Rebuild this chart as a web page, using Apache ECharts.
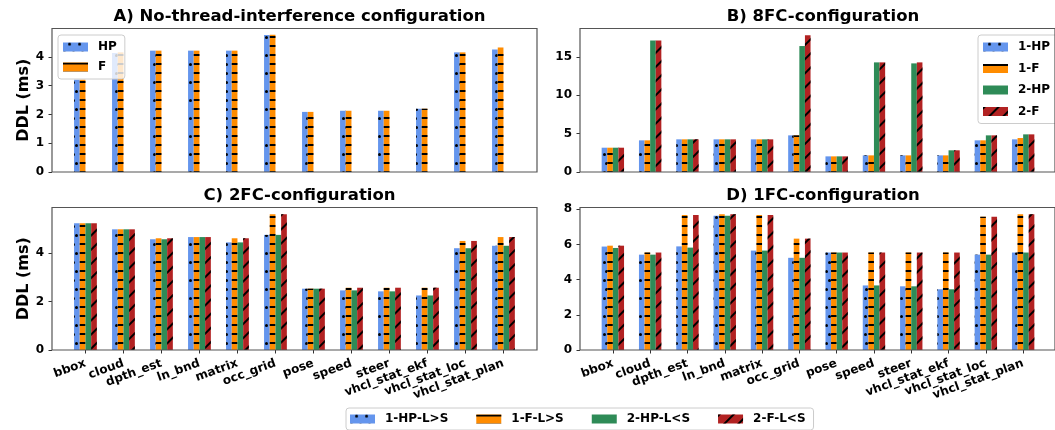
<!DOCTYPE html>
<html>
<head>
<meta charset="utf-8">
<script src="https://cdn.jsdelivr.net/npm/echarts@6/dist/echarts.min.js"></script>
<style>html,body{margin:0;padding:0;background:#fff}#c{width:1055px;height:430px}</style>
</head>
<body>
<div id="c"></div>
<script>
const categories = ['bbox','cloud','dpth_est','ln_bnd','matrix','occ_grid','pose','speed','steer','vhcl_stat_ekf','vhcl_stat_loc','vhcl_stat_plan'];

// A) No-thread-interference
const aHP = [3.21, 4.14, 4.22, 4.22, 4.22, 4.76, 2.09, 2.13, 2.13, 2.20, 4.16, 4.26];
const aF  = [3.21, 4.16, 4.22, 4.22, 4.22, 4.77, 2.09, 2.13, 2.13, 2.20, 4.16, 4.33];
// B) 8FC
const b1HP = [3.17, 4.13, 4.26, 4.26, 4.26, 4.78, 2.04, 2.17, 2.17, 2.17, 4.13, 4.26];
const b1F  = [3.17, 4.13, 4.26, 4.26, 4.26, 4.78, 2.04, 2.17, 2.17, 2.17, 4.13, 4.43];
const b2HP = [3.17, 17.17, 4.26, 4.26, 4.26, 16.43, 2.04, 14.30, 14.17, 2.83, 4.78, 4.91];
const b2F  = [3.17, 17.17, 4.26, 4.26, 4.26, 17.83, 2.04, 14.30, 14.30, 2.83, 4.78, 4.91];
// C) 2FC
const c1HP = [5.23, 4.98, 4.57, 4.66, 4.44, 4.75, 2.53, 2.46, 2.42, 2.25, 4.20, 4.30];
const c1F  = [5.23, 4.98, 4.61, 4.66, 4.61, 5.60, 2.53, 2.57, 2.57, 2.57, 4.50, 4.66];
const c2HP = [5.23, 4.98, 4.57, 4.66, 4.44, 4.75, 2.53, 2.46, 2.42, 2.25, 4.20, 4.30];
const c2F  = [5.23, 4.98, 4.61, 4.66, 4.61, 5.60, 2.53, 2.57, 2.57, 2.57, 4.50, 4.66];
// D) 1FC
const d1HP = [5.88, 5.42, 5.89, 7.63, 5.65, 5.24, 5.54, 3.67, 3.62, 3.45, 5.42, 5.54];
const d1F  = [5.93, 5.54, 7.68, 7.72, 7.68, 6.33, 5.54, 5.54, 5.54, 5.54, 7.57, 7.72];
const d2HP = [5.80, 5.42, 5.82, 7.63, 5.65, 5.24, 5.54, 3.67, 3.62, 3.45, 5.42, 5.54];
const d2F  = [5.93, 5.54, 7.68, 7.72, 7.68, 6.33, 5.54, 5.54, 5.54, 5.54, 7.57, 7.72];

const titles = ['A) No-thread-interference configuration', 'B) 8FC-configuration', 'C) 2FC-configuration', 'D) 1FC-configuration'];
const namesA = ['HP', 'F'];
const namesB = ['1-HP', '1-F', '2-HP', '2-F'];
const namesCD = ['1-HP-L>S', '1-F-L>S', '2-HP-L<S', '2-F-L<S'];

const FONT = 'DejaVu Sans';
const COLORS = ['#6495ED', '#FF8C00', '#2E8B57', '#B22222'];
const decalDots = {symbol: 'circle', symbolSize: 1, dashArrayX: [[2.4, 5.9], [0, 4.15, 2.4, 1.75]], dashArrayY: [2.4, 5.9], color: '#000'};
const decalH = {symbol: 'rect', symbolSize: 1, dashArrayX: [1, 0], dashArrayY: [1.6, 6.7], color: '#000'};
const decalS = {symbol: 'rect', symbolSize: 1, dashArrayX: [1, 0], dashArrayY: [1.1, 7.6], rotation: -Math.PI / 4, color: '#000'};
const DECALS = [decalDots, decalH, null, decalS];

const panels = [
  {frame: {left: 52, top: 28.5, width: 485, height: 143.5}, data: {left: 66.45, width: 456}, max: 4.99, interval: 1, xLabels: false, yName: 'DDL (ms)'},
  {frame: {left: 580, top: 28.5, width: 476, height: 143.5}, data: {left: 594.2, width: 447.6}, max: 18.72, interval: 5, xLabels: false, yName: ''},
  {frame: {left: 52, top: 207.5, width: 485, height: 142.5}, data: {left: 66.45, width: 456}, max: 5.88, interval: 2, xLabels: true, yName: 'DDL (ms)'},
  {frame: {left: 580, top: 207.5, width: 476, height: 142.5}, data: {left: 594.2, width: 447.6}, max: 8.1, interval: 2, xLabels: true, yName: ''}
];

const grid = [], xAxis = [], yAxis = [], title = [];
panels.forEach((p, i) => {
  grid.push({left: p.frame.left, top: p.frame.top, width: p.frame.width, height: p.frame.height, show: true, borderColor: '#555', borderWidth: 1.2, backgroundColor: 'transparent', z: 5});
  grid.push({left: p.data.left, top: p.frame.top, width: p.data.width, height: p.frame.height});
  const fg = 2 * i, dg = 2 * i + 1;
  xAxis.push({gridIndex: fg, type: 'value', show: false});
  yAxis.push({gridIndex: fg, type: 'value', show: false});
  xAxis.push({
    gridIndex: dg, type: 'category', data: categories,
    axisLine: {show: false},
    axisTick: {show: p.xLabels, alignWithLabel: true, length: 3.5, lineStyle: {color: '#333', width: 1}},
    axisLabel: {show: p.xLabels, interval: 0, rotate: 20, margin: 13, color: '#000', fontFamily: FONT, fontWeight: 'bold', fontSize: 12}
  });
  yAxis.push({
    gridIndex: dg, type: 'value', min: 0, max: p.max, interval: p.interval,
    offset: p.data.left - p.frame.left,
    axisLine: {show: false},
    axisTick: {show: true, length: 3.5, lineStyle: {color: '#333', width: 1}},
    splitLine: {show: false},
    axisLabel: {margin: 8, showMaxLabel: false, color: '#000', fontFamily: FONT, fontWeight: 'bold', fontSize: 12},
    name: p.yName, nameLocation: 'middle', nameRotate: 90, nameGap: 13,
    nameTextStyle: {color: '#000', fontFamily: FONT, fontWeight: 'bold', fontSize: 16}
  });
  title.push({text: titles[i], left: p.frame.left + p.frame.width / 2, top: p.frame.top - 25, textAlign: 'center',
    textStyle: {color: '#000', fontFamily: FONT, fontWeight: 'bold', fontSize: 16.5}});
});

function bar(name, data, k, axisIdx) {
  const s = {
    type: 'bar', name: name, data: data, xAxisIndex: axisIdx, yAxisIndex: axisIdx,
    barWidth: '15%', barGap: '0%',
    itemStyle: {color: COLORS[k]},
    emphasis: {disabled: true}, animation: false
  };
  if (DECALS[k]) s.itemStyle.decal = DECALS[k];
  return s;
}

const series = [
  bar(namesA[0], aHP, 0, 1), bar(namesA[1], aF, 1, 1),
  bar('pad-a', [], 2, 1), bar('pad-b', [], 3, 1),
  bar(namesB[0], b1HP, 0, 3), bar(namesB[1], b1F, 1, 3), bar(namesB[2], b2HP, 2, 3), bar(namesB[3], b2F, 3, 3),
  bar(namesCD[0], c1HP, 0, 5), bar(namesCD[1], c1F, 1, 5), bar(namesCD[2], c2HP, 2, 5), bar(namesCD[3], c2F, 3, 5),
  bar(namesCD[0], d1HP, 0, 7), bar(namesCD[1], d1F, 1, 7), bar(namesCD[2], d2HP, 2, 7), bar(namesCD[3], d2F, 3, 7)
];

const legTxt = {color: '#000', fontFamily: FONT, fontWeight: 'bold', fontSize: 12, padding: [0, 0, 0, 5]};
const legBase = {icon: 'rect', itemWidth: 25, itemHeight: 9, textStyle: legTxt, borderColor: '#ccc', borderWidth: 1, borderRadius: 3, backgroundColor: 'rgba(255,255,255,0.8)', selectedMode: false};
const legend = [
  Object.assign({}, legBase, {data: namesA, orient: 'vertical', left: 58, top: 35, itemGap: 8, padding: [6, 8, 6, 5]}),
  Object.assign({}, legBase, {data: namesB, orient: 'vertical', left: 978, top: 35, itemGap: 9.5, padding: [6, 10, 6, 5]}),
  Object.assign({}, legBase, {data: namesCD, orient: 'horizontal', left: 346, top: 408, itemGap: 28, padding: [5, 8, 5, 4]})
];

const chart = echarts.init(document.getElementById('c'), null, {renderer: 'canvas'});
chart.setOption({
  animation: false,
  title, grid, xAxis, yAxis, legend, series
});
</script>
</body>
</html>
